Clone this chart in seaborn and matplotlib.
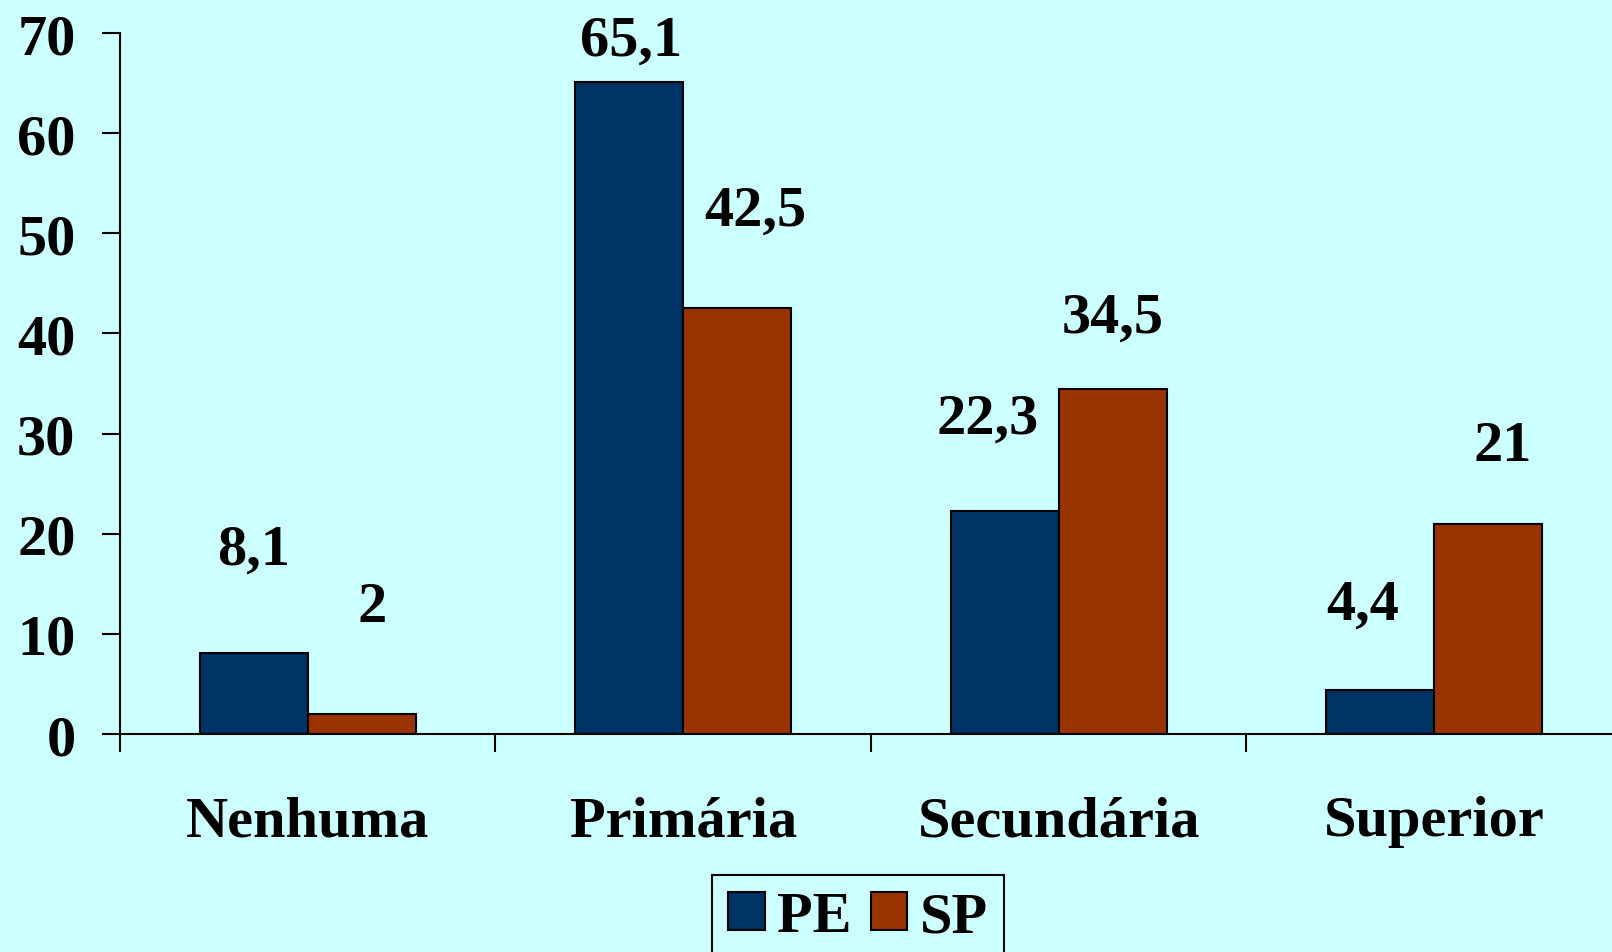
import numpy as np
import pandas as pd
import seaborn as sns
import matplotlib.pyplot as plt
from matplotlib.ticker import FixedLocator, NullFormatter

# data
categories = ['Nenhuma', 'Primária', 'Secundária', 'Superior']
pe_values = [8.1, 65.1, 22.3, 4.4]
sp_values = [2.0, 42.5, 34.5, 21.0]
pe_labels = ['8,1', '65,1', '22,3', '4,4']
sp_labels = ['2', '42,5', '34,5', '21']

# label nudges (pixels): (dx, dy above bar top)
pe_nudge = [(0, 100), (2, 40), (-17, 89), (-17, 83)]
sp_nudge = [(10, 104), (18, 95), (0, 69), (14, 76)]

bg = '#CCFFFF'
colors = {'PE': '#003366', 'SP': '#993300'}

df = pd.DataFrame({
    'cat': categories * 2,
    'val': pe_values + sp_values,
    'grupo': ['PE'] * 4 + ['SP'] * 4,
})

sns.set_style('white')
plt.rcParams['font.family'] = ['Liberation Serif', 'DejaVu Serif']
plt.rcParams['font.weight'] = 'bold'
for k in ['text.color', 'xtick.color', 'ytick.color', 'axes.labelcolor']:
    plt.rcParams[k] = 'black'

FS = 42
W, H = 1612, 953
fig = plt.figure(figsize=(W / 100, H / 100), dpi=100, facecolor=bg)
ax = fig.add_axes([120 / W, 1 - 735 / H, 1502 / W, 701 / H])
ax.set_facecolor(bg)

sns.barplot(data=df, x='cat', y='val', hue='grupo', palette=colors,
            width=0.575, edgecolor='black', linewidth=1.5, ax=ax,
            saturation=1, legend=True)

ax.set_xlim(-0.5, 3.5)
ax.set_ylim(0, 70)
ax.set_xlabel('')
ax.set_ylabel('')

for s in ['top', 'right']:
    ax.spines[s].set_visible(False)
for s in ['left', 'bottom']:
    ax.spines[s].set_linewidth(1.5)
    ax.spines[s].set_color('black')

# y ticks
ax.set_yticks(np.arange(0, 71, 10))
ax.tick_params(axis='y', direction='out', length=13, width=1.5, pad=19,
               labelsize=FS, left=True, colors='black')
for t in ax.get_yticklabels():
    t.set_fontweight('bold')

# x: boundary ticks (major), category labels on minor
ax.xaxis.set_major_locator(FixedLocator([-0.5, 0.5, 1.5, 2.5, 3.5]))
ax.xaxis.set_major_formatter(NullFormatter())
ax.xaxis.set_minor_locator(FixedLocator(range(len(categories))))
ax.set_xticklabels(categories, minor=True)
ax.tick_params(axis='x', which='major', direction='out', length=13,
               width=1.5, bottom=True, colors='black')
ax.tick_params(axis='x', which='minor', length=0, pad=44, labelsize=FS,
               colors='black')
for t in ax.get_xticklabels(minor=True):
    t.set_fontweight('bold')

# value labels
px = 72 / 100
half = 0.575 / 4
for i in range(len(categories)):
    for val, lab, nud, off in [(pe_values[i], pe_labels[i], pe_nudge[i], -half),
                               (sp_values[i], sp_labels[i], sp_nudge[i], half)]:
        ax.annotate(lab, (i + off, val), xytext=(nud[0] * 1.028 * px, nud[1] * 1.028 * px),
                    textcoords='offset points', ha='center', va='center',
                    fontsize=FS, fontweight='bold', color='black')

# legend
ax.get_legend().remove()
handles = [plt.Rectangle((0, 0), 1, 1, facecolor=colors[k], edgecolor='black', linewidth=1.5)
           for k in ['PE', 'SP']]
leg = fig.legend(handles, ['PE', 'SP'], loc='upper left',
                 bbox_to_anchor=(712 / W, 1 - 876 / H), ncol=2, frameon=True,
                 fancybox=False, edgecolor='black', facecolor=bg, framealpha=1,
                 prop={'size': FS, 'weight': 'bold'},
                 handlelength=0.62, handleheight=0.62, handletextpad=0.22,
                 columnspacing=0.32, borderpad=0.28, borderaxespad=0)
leg.get_frame().set_linewidth(1.5)

fig.savefig('out.png', dpi=100, facecolor=bg)
